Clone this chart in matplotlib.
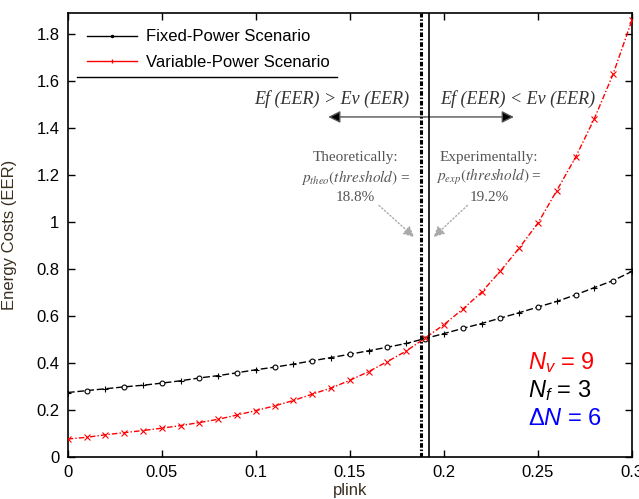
import numpy as np
import matplotlib
matplotlib.use("Agg")
import matplotlib.pyplot as plt

plt.rcParams['font.family'] = ['Liberation Sans', 'DejaVu Sans']
plt.rcParams['mathtext.fontset'] = 'custom'
plt.rcParams['mathtext.rm'] = 'Liberation Sans'
plt.rcParams['mathtext.it'] = 'Liberation Sans:italic'

plink = [0.00, 0.01, 0.02, 0.03, 0.04, 0.05, 0.06, 0.07, 0.08, 0.09, 0.10,
         0.11, 0.12, 0.13, 0.14, 0.15, 0.16, 0.17, 0.18, 0.19, 0.20,
         0.21, 0.22, 0.23, 0.24, 0.25, 0.26, 0.27, 0.28, 0.29, 0.30]
fixed_power = [0.273, 0.281, 0.289, 0.297, 0.304, 0.313, 0.323, 0.335, 0.345, 0.357, 0.370,
               0.381, 0.394, 0.408, 0.422, 0.436, 0.451, 0.466, 0.482, 0.503, 0.524,
               0.546, 0.567, 0.590, 0.613, 0.637, 0.661, 0.689, 0.720, 0.750, 0.789]
variable_power = [0.075, 0.082, 0.093, 0.102, 0.111, 0.121, 0.132, 0.145, 0.159, 0.177, 0.196,
                  0.216, 0.239, 0.266, 0.292, 0.325, 0.362, 0.405, 0.450, 0.505, 0.562,
                  0.628, 0.700, 0.790, 0.888, 0.995, 1.133, 1.275, 1.440, 1.630, 1.860]
theo_threshold = 0.188
exp_threshold = 0.192
x_ticks = [0, 0.05, 0.1, 0.15, 0.2, 0.25, 0.3]
x_tick_labels = ['0', '0.05', '0.1', '0.15', '0.2', '0.25', '0.3']
y_ticks = [0, 0.2, 0.4, 0.6, 0.8, 1.0, 1.2, 1.4, 1.6, 1.8]
y_tick_labels = ['0', '0.2', '0.4', '0.6', '0.8', '1', '1.2', '1.4', '1.6', '1.8']

fig = plt.figure(figsize=(6.39, 4.99), dpi=100)
ax = fig.add_axes([0.106, 0.085, 0.883, 0.889])

x = np.array(plink)
yf = np.array(fixed_power)
yv = np.array(variable_power)

# Fixed power: dashed black with alternating small circles / plus markers
ax.plot(x, yf, color='black', lw=1.0, ls=(0, (5, 2)), zorder=3)
ax.plot(x[1::2], yf[1::2], ls='none', marker='o', ms=3.5, mfc='white', mec='black', mew=0.8, zorder=4)
ax.plot(x[0::2], yf[0::2], ls='none', marker='+', ms=5, mec='black', mew=0.8, zorder=4)

# Variable power: dash-dot red with x markers
ax.plot(x, yv, color='red', lw=1.0, ls=(0, (4, 1.5, 1, 1.5)), zorder=3)
ax.plot(x, yv, ls='none', marker='x', ms=4.5, mec='red', mew=0.8, zorder=4)

# Legend handles
h1, = ax.plot([], [], color='black', lw=1.0, marker='.', ms=3, label='Fixed-Power Scenario')
h2, = ax.plot([], [], color='red', lw=1.0, marker='|', ms=3, label='Variable-Power Scenario')
leg = ax.legend(handles=[h1, h2], loc='upper left', frameon=False, fontsize=12,
                handlelength=3.0, borderaxespad=0.0, borderpad=0.0,
                bbox_to_anchor=(0.035, 0.963),
                labelspacing=0.62, handletextpad=0.5)
ax.plot([0.0165, 0.477], [0.856, 0.856], color='black', lw=1.0, transform=ax.transAxes, clip_on=False)

# Threshold lines
ax.axvline(theo_threshold, color='black', lw=2.2, ls=(0, (1.5, 0.6, 0.5, 0.6)), zorder=5)
ax.axvline(exp_threshold, color='black', lw=1.2, zorder=5)

# Region labels
serif = ['Liberation Serif', 'DejaVu Serif']
ax.text(0.1405, 1.525, 'Ef (EER) > Ev (EER)', fontsize=13, style='italic', family=serif,
        color='#333333', ha='center', va='center')
ax.text(0.2395, 1.525, 'Ef (EER) < Ev (EER)', fontsize=13, style='italic', family=serif,
        color='#333333', ha='center', va='center')
ax.annotate('', xy=(0.1385, 1.447), xytext=(0.190, 1.447),
            arrowprops=dict(arrowstyle='-|>', color='#555555', lw=1.0, mutation_scale=18,
                            shrinkA=0, shrinkB=0, fc='black', ec='#555555'))
ax.annotate('', xy=(0.2372, 1.447), xytext=(0.190, 1.447),
            arrowprops=dict(arrowstyle='-|>', color='#555555', lw=1.0, mutation_scale=18,
                            shrinkA=0, shrinkB=0, fc='black', ec='#555555'))

# Explanatory texts
ax.text(0.153, 1.275, 'Theoretically:', fontsize=11, family=serif, color='#555555',
        ha='center', va='center')
ax.text(0.153, 1.19, r'$p_{theo}(threshold)$ =', fontsize=11, family=serif, color='#555555',
        ha='center', va='center', math_fontfamily='stix')
ax.text(0.153, 1.105, '18.8%', fontsize=11, family=serif, color='#555555',
        ha='center', va='center')
ax.text(0.224, 1.275, 'Experimentally:', fontsize=11, family=serif, color='#555555',
        ha='center', va='center')
ax.text(0.224, 1.19, r'$p_{exp}(threshold)$ =', fontsize=11, family=serif, color='#555555',
        ha='center', va='center', math_fontfamily='stix')
ax.text(0.224, 1.105, '19.2%', fontsize=11, family=serif, color='#555555',
        ha='center', va='center')

ax.annotate('', xy=(0.1842, 0.935), xytext=(0.1655, 1.07),
            arrowprops=dict(arrowstyle='-|>', color='#aaaaaa', lw=1.0, ls=':', mutation_scale=16,
                            shrinkA=0, shrinkB=0, fc='#aaaaaa', ec='#aaaaaa'))
ax.annotate('', xy=(0.1945, 0.935), xytext=(0.2125, 1.07),
            arrowprops=dict(arrowstyle='-|>', color='#aaaaaa', lw=1.0, ls=':', mutation_scale=16,
                            shrinkA=0, shrinkB=0, fc='#aaaaaa', ec='#aaaaaa'))

# N annotations
ax.text(0.2445, 0.40, '$N_v$ = 9', fontsize=17, color='red', ha='left', va='center')
ax.text(0.2445, 0.28, '$N_f$ = 3', fontsize=17, color='black', ha='left', va='center')
ax.text(0.2445, 0.16, 'Δ$N$ = 6', fontsize=17, color='blue', ha='left', va='center')

ax.set_xlim(0, 0.3)
ax.set_ylim(0, 1.89)
ax.set_xticks(x_ticks)
ax.set_xticklabels(x_tick_labels)
ax.set_yticks(y_ticks)
ax.set_yticklabels(y_tick_labels)
ax.tick_params(direction='in', top=True, right=True, labelsize=12, length=5, width=1.0, pad=6)
for s in ax.spines.values():
    s.set_linewidth(1.2)
ax.set_xlabel('plink', fontsize=12, labelpad=2, color='#3a3020')
ax.set_ylabel('Energy Costs (EER)', fontsize=12, labelpad=14, color='#3a3020')

fig.savefig('out.png', dpi=100)
